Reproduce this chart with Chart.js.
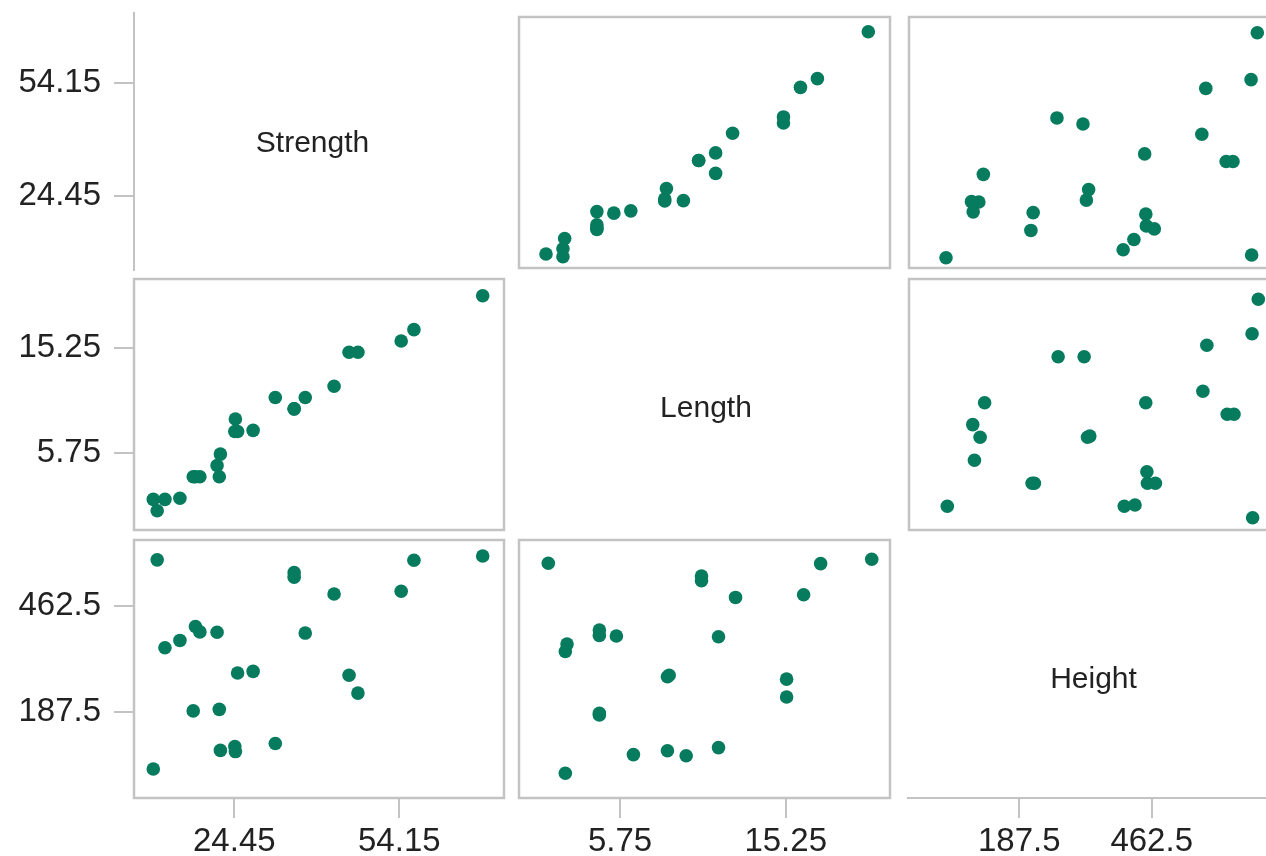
<!DOCTYPE html>
<html>
<head>
<meta charset="utf-8">
<script src="https://cdn.jsdelivr.net/npm/chart.js@4.4.1/dist/chart.umd.min.js"></script>
<style>
html, body { margin: 0; padding: 0; background: #fff; overflow: hidden; }
#wrap { position: relative; width: 1266px; height: 856px; overflow: hidden; background: #fff; }
#wrap canvas { position: absolute; }
</style>
</head>
<body>
<div id="wrap"></div>
<script>
// ---------------- DATA ----------------
const variableNames = ['Strength', 'Length', 'Height'];
const strengthValues = [69.0, 10.3, 56.6, 35.0, 35.0, 54.3, 42.2, 17.2, 18.0, 21.1, 37.0, 14.4, 11.7, 27.6, 24.8, 44.9, 46.5, 21.5, 16.8, 31.6, 24.3, 21.7, 24.4, 9.6];
const lengthValues   = [20.0, 1.0, 17.0, 10.0, 10.0, 16.0, 12.0, 4.0, 4.0, 5.0, 11.0, 2.1, 2.0, 8.1, 8.0, 15.0, 15.0, 4.0, 4.0, 11.0, 8.0, 6.0, 9.1, 2.0];
const heightValues   = [600, 590, 589, 557, 545, 509, 502, 418, 404, 403, 401, 382, 363, 302, 298, 292, 246, 204, 200, 116, 108, 98, 95, 50];
const strengthTickValues = [24.45, 54.15];
const strengthTickLabels = ['24.45', '54.15'];
const lengthTickValues = [5.75, 15.25];
const lengthTickLabels = ['5.75', '15.25'];
const heightTickValues = [187.5, 462.5];
const heightTickLabels = ['187.5', '462.5'];

const series = [strengthValues, lengthValues, heightValues];
const tickValues = [strengthTickValues, lengthTickValues, heightTickValues];
const tickLabels = [strengthTickLabels, lengthTickLabels, heightTickLabels];

// ---------------- STYLE / LAYOUT ----------------
const FONT = 'Liberation Sans';
const TEXT = '#222222';
const GRID = '#c3c3c3';
const POINT = '#077b5e';

const cols = [{ l: 134, r: 504 }, { l: 519, r: 890 }, { l: 909, r: 1279 }];
const rows = [{ t: 17, b: 268 }, { t: 279, b: 530 }, { t: 540, b: 798 }];

// pixel positions (page coords) where each variable's lowest / highest value sits, per scatter panel
const panelCal = {
  '0-1': { x: [546, 868.3], y: [256.7, 31.7] },
  '0-2': { x: [946, 1257.3], y: [257.7, 32.7] },
  '1-0': { x: [153.3, 482.7], y: [510.7, 295.7] },
  '1-2': { x: [947.3, 1258.3], y: [517.7, 299.3] },
  '2-0': { x: [153.3, 482.7], y: [769, 556] },
  '2-1': { x: [548.3, 871.7], y: [773.3, 559.3] }
};

function calib(v1, p1, v2, p2, base, end) {
  const k = (p2 - p1) / (v2 - v1);
  const min = v1 - (p1 - base) / k;
  const max = min + (end - base) / k;
  return { min, max };
}

const framePlugin = {
  id: 'frame',
  beforeDatasetsDraw(chart, args, opts) {
    if (!opts || !opts.show) return;
    const { left, top, right, bottom } = chart.chartArea;
    const ctx = chart.ctx;
    ctx.save();
    ctx.strokeStyle = GRID;
    ctx.lineWidth = 2.5;
    ctx.strokeRect(left, top, right - left, bottom - top);
    ctx.restore();
  }
};

const labelPlugin = {
  id: 'diagLabel',
  afterDraw(chart, args, opts) {
    if (!opts || !opts.text) return;
    const { left, top, right, bottom } = chart.chartArea;
    const ctx = chart.ctx;
    ctx.save();
    ctx.fillStyle = TEXT;
    ctx.font = '30px "' + FONT + '"';
    ctx.textAlign = 'center';
    ctx.textBaseline = 'alphabetic';
    ctx.fillText(opts.text, (left + right) / 2, (top + bottom) / 2 + 0.358 * 30);
    ctx.restore();
  }
};

function tickScale(axis, position, cal, values, labels, fitSize, showBorder) {
  return {
    type: 'linear', axis: axis, position: position, display: true,
    min: cal.min, max: cal.max,
    afterBuildTicks: s => { s.ticks = values.map(v => ({ value: v })); },
    afterFit: s => {
      if (axis === 'y') s.width = fitSize; else s.height = fitSize;
      s.paddingTop = 0; s.paddingBottom = 0; s.paddingLeft = 0; s.paddingRight = 0;
    },
    grid: { display: true, drawOnChartArea: false, drawTicks: true, tickLength: 20, color: GRID, lineWidth: 2 },
    border: { display: showBorder, color: GRID, width: 2 },
    ticks: {
      autoSkip: false, maxRotation: 0, minRotation: 0,
      padding: axis === 'y' ? 13 : 4,
      color: TEXT, font: { family: FONT, size: 33 },
      callback: (v, i) => labels[i]
    }
  };
}

const wrap = document.getElementById('wrap');
function makeChart(rect, padding, datasets, scales, pluginOpts) {
  const c = document.createElement('canvas');
  c.width = rect.w; c.height = rect.h;
  c.style.left = rect.x + 'px'; c.style.top = rect.y + 'px';
  c.style.width = rect.w + 'px'; c.style.height = rect.h + 'px';
  wrap.appendChild(c);
  return new Chart(c, {
    type: 'scatter',
    data: { datasets: datasets },
    options: {
      responsive: false, animation: false, devicePixelRatio: 1, events: [],
      layout: { padding: padding, autoPadding: false },
      scales: scales,
      plugins: Object.assign({ legend: { display: false }, tooltip: { enabled: false } }, pluginOpts)
    },
    plugins: [framePlugin, labelPlugin]
  });
}

function pointsFor(xi, yi) {
  return series[xi].map((v, k) => ({ x: v, y: series[yi][k] }));
}
function lo(i) { return Math.min(...series[i]); }
function hi(i) { return Math.max(...series[i]); }

// tick pixel positions (page coords), same order as the tick arrays
const tickPx = {
  y0: { px: [196, 83.3], area: [270, 13] },
  y1: { px: [453.3, 348.3], area: [530, 279] },
  y2: { px: [711.7, 606], area: [798, 540] },
  x0: { px: [234.3, 399.3], area: [134, 504] },
  x1: { px: [620, 785.7], area: [519, 890] },
  x2: { px: [1019.3, 1151.7], area: [908, 1279] }
};
function tickCal(key, varIdx) {
  const t = tickPx[key];
  const v = tickValues[varIdx];
  return calib(v[0], t.px[0], v[1], t.px[1], t.area[0], t.area[1]);
}

// ---------- scatter panels ----------
for (let r = 0; r < 3; r++) {
  for (let cI = 0; cI < 3; cI++) {
    if (r === cI) continue;
    const key = r + '-' + cI;
    const cal = panelCal[key];
    const box = { l: cols[cI].l, r: cols[cI].r, t: rows[r].t, b: rows[r].b };
    const xc = calib(lo(cI), cal.x[0], hi(cI), cal.x[1], box.l, box.r);
    const yc = calib(lo(r), cal.y[0], hi(r), cal.y[1], box.b, box.t);
    const scales = {
      x: { type: 'linear', display: false, min: xc.min, max: xc.max },
      y: { type: 'linear', display: false, min: yc.min, max: yc.max }
    };
    let rect = { x: box.l - 2, y: box.t - 2, w: box.r - box.l + 4, h: box.b - box.t + 4 };
    const padding = { left: 2, right: 2, top: 2, bottom: 2 };
    if (cI === 0) {
      rect.x = 0; rect.w = box.r + 2; padding.left = 0;
      scales.yt = tickScale('y', 'left', tickCal('y' + r, r), tickValues[r], tickLabels[r], box.l, false);
    }
    if (r === 2) {
      rect.h = 856 - rect.y; padding.bottom = 0;
      scales.xt = tickScale('x', 'bottom', tickCal('x' + cI, cI), tickValues[cI], tickLabels[cI], 856 - box.b, false);
    }
    makeChart(rect, padding, [{
      data: pointsFor(cI, r),
      backgroundColor: POINT, borderColor: POINT,
      pointRadius: 6.8, pointHoverRadius: 6.8, pointBorderWidth: 0
    }], scales, { frame: { show: true }, diagLabel: { text: '' } });
  }
}

// ---------- diagonal cells ----------
// Strength (with left axis)
makeChart({ x: 0, y: 11, w: 493, h: 261 }, { left: 0, right: 2, top: 2, bottom: 2 }, [], {
  x: { type: 'linear', display: false },
  y: { type: 'linear', display: false },
  yt: tickScale('y', 'left', tickCal('y0', 0), tickValues[0], tickLabels[0], 134, true)
}, { frame: { show: false }, diagLabel: { text: variableNames[0] } });

// Length
makeChart({ x: 519, y: 279, w: 374, h: 254 }, 0, [], {
  x: { type: 'linear', display: false },
  y: { type: 'linear', display: false }
}, { frame: { show: false }, diagLabel: { text: variableNames[1] } });

// Height (with bottom axis)
makeChart({ x: 906, y: 554, w: 375, h: 302 }, { left: 2, right: 2, top: 2, bottom: 0 }, [], {
  x: { type: 'linear', display: false },
  y: { type: 'linear', display: false },
  xt: tickScale('x', 'bottom', tickCal('x2', 2), tickValues[2], tickLabels[2], 58, true)
}, { frame: { show: false }, diagLabel: { text: variableNames[2] } });
</script>
</body>
</html>
